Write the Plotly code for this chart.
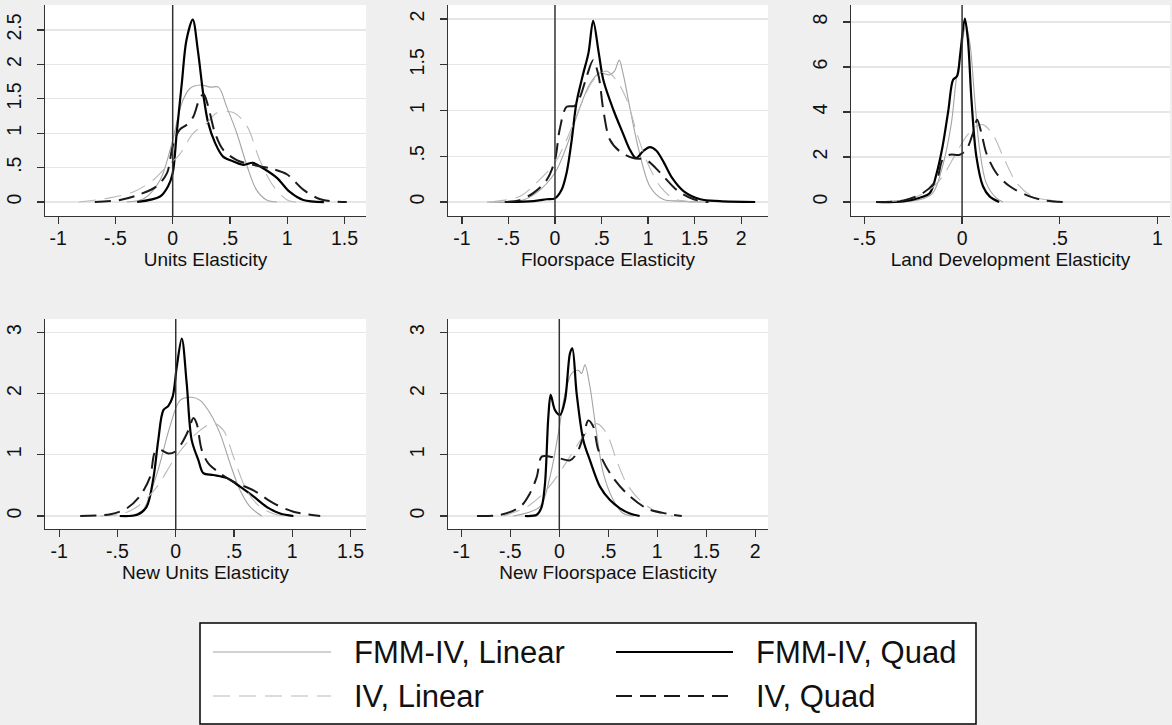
import plotly.graph_objects as go

# ---------------- data ----------------
# Panel 1: Units Elasticity
u_fl_x = [-0.40, -0.25, -0.11, 0.0, 0.08, 0.15, 0.24, 0.33, 0.40, 0.47, 0.56, 0.65, 0.73, 0.82, 0.91]
u_fl_y = [0.0, 0.05, 0.32, 0.90, 1.44, 1.65, 1.70, 1.67, 1.67, 1.39, 1.00, 0.52, 0.18, 0.03, 0.0]
u_fq_x = [-0.31, -0.11, -0.04, 0.0, 0.035, 0.08, 0.12, 0.175, 0.22, 0.27, 0.31, 0.37, 0.44, 0.53, 0.62, 0.70, 0.79, 0.91, 1.02, 1.14, 1.32]
u_fq_y = [0.0, 0.08, 0.23, 0.42, 1.0, 1.73, 2.35, 2.65, 2.2, 1.53, 1.15, 0.86, 0.66, 0.59, 0.54, 0.57, 0.49, 0.35, 0.15, 0.03, 0.0]
u_il_x = [-0.82, -0.55, -0.34, -0.17, -0.05, 0.06, 0.18, 0.30, 0.38, 0.53, 0.65, 0.76, 0.88, 1.0, 1.08]
u_il_y = [0.0, 0.06, 0.15, 0.32, 0.52, 0.69, 1.0, 1.15, 1.29, 1.30, 1.10, 0.61, 0.23, 0.03, 0.0]
u_iq_x = [-0.68, -0.46, -0.29, -0.14, -0.05, 0.0, 0.06, 0.12, 0.18, 0.23, 0.27, 0.31, 0.37, 0.44, 0.56, 0.70, 0.85, 1.0, 1.14, 1.29, 1.52]
u_iq_y = [0.0, 0.03, 0.11, 0.23, 0.42, 0.81, 1.05, 1.12, 1.24, 1.48, 1.57, 1.39, 1.0, 0.76, 0.61, 0.54, 0.49, 0.40, 0.18, 0.04, 0.0]

# Panel 2: Floorspace Elasticity
f_fl_x = [-0.73, -0.38, -0.20, 0.0, 0.125, 0.27, 0.38, 0.48, 0.59, 0.64, 0.69, 0.73, 0.81, 0.90, 1.02, 1.16, 1.34, 1.63]
f_fl_y = [0.0, 0.01, 0.10, 0.32, 0.61, 1.04, 1.30, 1.41, 1.39, 1.43, 1.55, 1.41, 1.0, 0.57, 0.17, 0.03, 0.01, 0.0]
f_fq_x = [-0.52, -0.23, -0.09, 0.0, 0.07, 0.125, 0.18, 0.23, 0.30, 0.36, 0.41, 0.47, 0.52, 0.63, 0.73, 0.80, 0.87, 0.95, 1.02, 1.09, 1.17, 1.26, 1.38, 1.56, 1.77, 2.15]
f_fq_y = [0.0, 0.01, 0.03, 0.04, 0.13, 0.32, 0.68, 1.08, 1.39, 1.63, 1.98, 1.63, 1.33, 1.0, 0.75, 0.58, 0.48, 0.56, 0.60, 0.56, 0.43, 0.26, 0.12, 0.03, 0.01, 0.0]
f_il_x = [-0.70, -0.38, -0.20, 0.0, 0.125, 0.27, 0.41, 0.55, 0.66, 0.77, 0.88, 0.98, 1.13, 1.27, 1.49]
f_il_y = [0.0, 0.06, 0.21, 0.43, 0.68, 1.04, 1.33, 1.43, 1.33, 1.12, 0.75, 0.46, 0.17, 0.04, 0.0]
f_iq_x = [-0.54, -0.38, -0.23, -0.09, 0.0, 0.05, 0.125, 0.21, 0.27, 0.34, 0.41, 0.47, 0.52, 0.59, 0.70, 0.84, 0.98, 1.13, 1.31, 1.49, 1.65]
f_iq_y = [0.0, 0.02, 0.10, 0.24, 0.46, 0.79, 1.04, 1.05, 1.15, 1.37, 1.55, 1.37, 1.0, 0.68, 0.55, 0.48, 0.46, 0.32, 0.13, 0.03, 0.0]

# Panel 3: Land Development Elasticity
l_fl_x = [-0.42, -0.22, -0.15, -0.10, -0.055, -0.03, -0.003, 0.019, 0.04, 0.065, 0.09, 0.124, 0.175, 0.21]
l_fl_y = [0.0, 0.10, 0.40, 1.59, 3.5, 5.44, 6.77, 7.88, 7.07, 4.55, 2.33, 0.84, 0.18, 0.0]
l_fq_x = [-0.44, -0.30, -0.22, -0.165, -0.13, -0.10, -0.07, -0.046, -0.026, -0.009, 0.014, 0.03, 0.048, 0.073, 0.107, 0.141, 0.19]
l_fq_y = [0.0, 0.03, 0.18, 0.40, 1.29, 2.47, 4.1, 5.44, 5.59, 6.62, 8.15, 7.2, 4.55, 2.03, 0.7, 0.25, 0.0]
l_il_x = [-0.42, -0.27, -0.165, -0.10, -0.03, 0.022, 0.073, 0.107, 0.158, 0.21, 0.28, 0.36, 0.465, 0.52]
l_il_y = [0.0, 0.13, 0.55, 1.14, 2.18, 2.92, 3.36, 3.44, 2.99, 2.03, 0.84, 0.25, 0.06, 0.0]
l_iq_x = [-0.44, -0.30, -0.20, -0.13, -0.10, -0.063, -0.012, 0.022, 0.056, 0.077, 0.099, 0.124, 0.175, 0.244, 0.346, 0.43, 0.525]
l_iq_y = [0.0, 0.07, 0.40, 1.0, 1.88, 2.1, 2.1, 2.33, 3.07, 3.66, 3.07, 2.18, 1.29, 0.70, 0.25, 0.06, 0.0]

# Panel 4: New Units Elasticity
n_fl_x = [-0.48, -0.36, -0.28, -0.16, -0.05, 0.037, 0.137, 0.209, 0.295, 0.38, 0.466, 0.552, 0.638, 0.738]
n_fl_y = [0.0, 0.02, 0.10, 0.70, 1.46, 1.89, 1.94, 1.89, 1.68, 1.35, 0.86, 0.42, 0.15, 0.0]
n_fq_x = [-0.48, -0.33, -0.25, -0.19, -0.15, -0.106, -0.063, -0.026, 0.009, 0.052, 0.094, 0.137, 0.195, 0.237, 0.323, 0.438, 0.552, 0.667, 0.78, 0.896, 1.01]
n_fq_y = [0.0, 0.02, 0.15, 0.64, 1.24, 1.73, 1.80, 1.95, 2.44, 2.90, 2.17, 1.24, 0.91, 0.70, 0.67, 0.62, 0.48, 0.32, 0.15, 0.04, 0.0]
n_il_x = [-0.65, -0.45, -0.31, -0.16, -0.02, 0.094, 0.209, 0.323, 0.41, 0.495, 0.609, 0.724, 0.867, 0.95]
n_il_y = [0.0, 0.04, 0.18, 0.48, 0.91, 1.19, 1.40, 1.52, 1.40, 0.97, 0.42, 0.15, 0.02, 0.0]
n_iq_x = [-0.82, -0.56, -0.42, -0.31, -0.22, -0.177, -0.134, -0.063, -0.006, 0.052, 0.109, 0.152, 0.18, 0.223, 0.28, 0.38, 0.495, 0.667, 0.838, 1.01, 1.24]
n_iq_y = [0.0, 0.03, 0.125, 0.32, 0.64, 1.05, 1.08, 1.02, 1.05, 1.19, 1.40, 1.60, 1.51, 1.08, 0.86, 0.70, 0.56, 0.42, 0.21, 0.07, 0.0]

# Panel 5: New Floorspace Elasticity
nf_fl_x = [-0.47, -0.20, -0.095, -0.01, 0.058, 0.126, 0.194, 0.228, 0.262, 0.313, 0.381, 0.449, 0.551, 0.653, 0.755]
nf_fl_y = [0.0, 0.15, 0.64, 1.35, 2.0, 2.33, 2.38, 2.33, 2.47, 2.11, 1.35, 0.70, 0.26, 0.04, 0.0]
nf_fq_x = [-0.35, -0.23, -0.18, -0.146, -0.112, -0.088, -0.044, 0.007, 0.058, 0.109, 0.133, 0.177, 0.245, 0.313, 0.415, 0.517, 0.619, 0.72, 0.82]
nf_fq_y = [0.0, 0.02, 0.15, 0.53, 1.62, 1.98, 1.73, 1.65, 1.89, 2.66, 2.74, 2.0, 1.24, 0.91, 0.48, 0.26, 0.125, 0.04, 0.0]
nf_il_x = [-0.57, -0.33, -0.163, -0.027, 0.109, 0.245, 0.381, 0.483, 0.585, 0.687, 0.823, 0.993, 1.16]
nf_il_y = [0.0, 0.15, 0.37, 0.64, 0.97, 1.30, 1.51, 1.35, 0.91, 0.53, 0.26, 0.07, 0.0]
nf_iq_x = [-0.84, -0.60, -0.40, -0.30, -0.23, -0.18, -0.095, 0.007, 0.109, 0.177, 0.245, 0.296, 0.347, 0.398, 0.517, 0.687, 0.891, 1.095, 1.25]
nf_iq_y = [0.0, 0.02, 0.15, 0.37, 0.64, 0.97, 0.97, 0.94, 0.91, 1.02, 1.30, 1.56, 1.46, 1.08, 0.70, 0.37, 0.125, 0.04, 0.0]

series_names = ["FMM-IV, Linear", "FMM-IV, Quad", "IV, Linear", "IV, Quad"]
panel_titles = ["Units Elasticity", "Floorspace Elasticity", "Land Development Elasticity",
                "New Units Elasticity", "New Floorspace Elasticity"]

# tick values / labels
x_ticks_a = [-1, -0.5, 0, 0.5, 1, 1.5]
x_labels_a = ["-1", "-.5", "0", ".5", "1", "1.5"]
x_ticks_b = [-1, -0.5, 0, 0.5, 1, 1.5, 2]
x_labels_b = ["-1", "-.5", "0", ".5", "1", "1.5", "2"]
x_ticks_c = [-0.5, 0, 0.5, 1]
x_labels_c = ["-.5", "0", ".5", "1"]
y_ticks_1 = [0, 0.5, 1, 1.5, 2, 2.5]
y_labels_1 = ["0", ".5", "1", "1.5", "2", "2.5"]
y_ticks_2 = [0, 0.5, 1, 1.5, 2]
y_labels_2 = ["0", ".5", "1", "1.5", "2"]
y_ticks_3 = [0, 2, 4, 6, 8]
y_labels_3 = ["0", "2", "4", "6", "8"]
y_ticks_45 = [0, 1, 2, 3]
y_labels_45 = ["0", "1", "2", "3"]

# ---------------- figure ----------------
W, H = 1172, 725
FONT = "Liberation Sans, Arial, Helvetica, sans-serif"

styles = [
    dict(color="#a3a3a3", width=1.1, dash="solid"),
    dict(color="#000000", width=2.2, dash="solid"),
    dict(color="#b9b9b9", width=1.1, dash="17px,9px"),
    dict(color="#1a1a1a", width=2.0, dash="16px,8px"),
]

panels = [
    dict(data=[(u_fl_x, u_fl_y), (u_fq_x, u_fq_y), (u_il_x, u_il_y), (u_iq_x, u_iq_y)],
         px=(45, 366), py=(5, 216), xr=(-1.115, 1.688), yr=(-0.203, 2.863),
         xt=(x_ticks_a, x_labels_a), yt=(y_ticks_1, y_labels_1)),
    dict(data=[(f_fl_x, f_fl_y), (f_fq_x, f_fq_y), (f_il_x, f_il_y), (f_iq_x, f_iq_y)],
         px=(448, 768), py=(5, 216), xr=(-1.149, 2.288), yr=(-0.153, 2.153),
         xt=(x_ticks_b, x_labels_b), yt=(y_ticks_2, y_labels_2)),
    dict(data=[(l_fl_x, l_fl_y), (l_fq_x, l_fq_y), (l_il_x, l_il_y), (l_iq_x, l_iq_y)],
         px=(851, 1170), py=(5, 216), xr=(-0.569, 1.065), yr=(-0.622, 8.76),
         xt=(x_ticks_c, x_labels_c), yt=(y_ticks_3, y_labels_3)),
    dict(data=[(n_fl_x, n_fl_y), (n_fq_x, n_fq_y), (n_il_x, n_il_y), (n_iq_x, n_iq_y)],
         px=(45, 366), py=(319, 529), xr=(-1.122, 1.633), yr=(-0.212, 3.219),
         xt=(x_ticks_a, x_labels_a), yt=(y_ticks_45, y_labels_45)),
    dict(data=[(nf_fl_x, nf_fl_y), (nf_fq_x, nf_fq_y), (nf_il_x, nf_il_y), (nf_iq_x, nf_iq_y)],
         px=(448, 768), py=(319, 529), xr=(-1.136, 2.13), yr=(-0.212, 3.219),
         xt=(x_ticks_b, x_labels_b), yt=(y_ticks_45, y_labels_45)),
]

fig = go.Figure()
shapes = []
annotations = []
layout_axes = {}

for i, p in enumerate(panels):
    n = i + 1
    xa = "x" if n == 1 else f"x{n}"
    ya = "y" if n == 1 else f"y{n}"
    for k, (xs, ys) in enumerate(p["data"]):
        fig.add_trace(go.Scatter(
            x=xs, y=ys, mode="lines", name=series_names[k],
            line=dict(color=styles[k]["color"], width=styles[k]["width"],
                      dash=styles[k]["dash"], shape="spline", smoothing=0.9),
            xaxis=xa, yaxis=ya, showlegend=False, hoverinfo="skip"))
    common = dict(showline=True, linecolor="#333333", linewidth=1.3, ticks="outside",
                  ticklen=7, tickwidth=1.3, tickcolor="#333333", zeroline=False,
                  tickfont=dict(family=FONT, size=19.5, color="#111111"), fixedrange=True)
    layout_axes["xaxis" if n == 1 else f"xaxis{n}"] = dict(
        common, domain=[p["px"][0] / W, p["px"][1] / W], range=list(p["xr"]),
        anchor=ya, showgrid=False, tickmode="array", tickvals=p["xt"][0], ticktext=p["xt"][1],
        tickangle=0, ticklabelstandoff=-3,
        title=dict(text=panel_titles[i], font=dict(family=FONT, size=19, color="#111111"), standoff=3))
    layout_axes["yaxis" if n == 1 else f"yaxis{n}"] = dict(
        common, domain=[1 - p["py"][1] / H, 1 - p["py"][0] / H], range=list(p["yr"]),
        anchor=xa, showgrid=True, gridcolor="#e6e6e6", gridwidth=1.3,
        tickmode="array", tickvals=p["yt"][0], ticktext=p["yt"][1], tickangle=-90,
        ticklabelstandoff=8)
    # vertical reference line at x = 0
    shapes.append(dict(type="line", xref=xa, yref="paper", x0=0, x1=0,
                       y0=1 - p["py"][1] / H, y1=1 - p["py"][0] / H,
                       line=dict(color="#333333", width=1.5), layer="above"))

# legend box (manual, Stata style)
def px2x(v):
    return v / W

def py2y(v):
    return 1 - v / H

shapes.append(dict(type="rect", xref="paper", yref="paper",
                   x0=px2x(200), x1=px2x(976), y0=py2y(724), y1=py2y(623),
                   fillcolor="white", line=dict(color="#000000", width=1.5), layer="below"))
leg_pos = [(213, 331, 352, 652), (616, 733, 754, 652), (213, 331, 352, 696), (616, 733, 754, 696)]
for k, (lx0, lx1, tx, ty) in enumerate(leg_pos):
    shapes.append(dict(type="line", xref="paper", yref="paper",
                       x0=px2x(lx0), x1=px2x(lx1), y0=py2y(ty), y1=py2y(ty),
                       line=dict(color=styles[k]["color"], width=styles[k]["width"],
                                 dash=styles[k]["dash"]), layer="above"))
    annotations.append(dict(xref="paper", yref="paper", x=px2x(tx), y=py2y(ty),
                            text=series_names[k], showarrow=False, xanchor="left", yanchor="middle",
                            font=dict(family=FONT, size=31, color="#111111")))

fig.update_layout(
    width=W, height=H, autosize=False,
    margin=dict(l=0, r=0, t=0, b=0),
    paper_bgcolor="#efefef", plot_bgcolor="white",
    font=dict(family=FONT, color="#111111"),
    showlegend=False, hovermode=False,
    shapes=shapes, annotations=annotations,
    **layout_axes,
)

fig.write_html("out.html", config={"displayModeBar": False, "staticPlot": True},
               post_script="document.body.style.margin='0';document.body.style.overflow='hidden';")
